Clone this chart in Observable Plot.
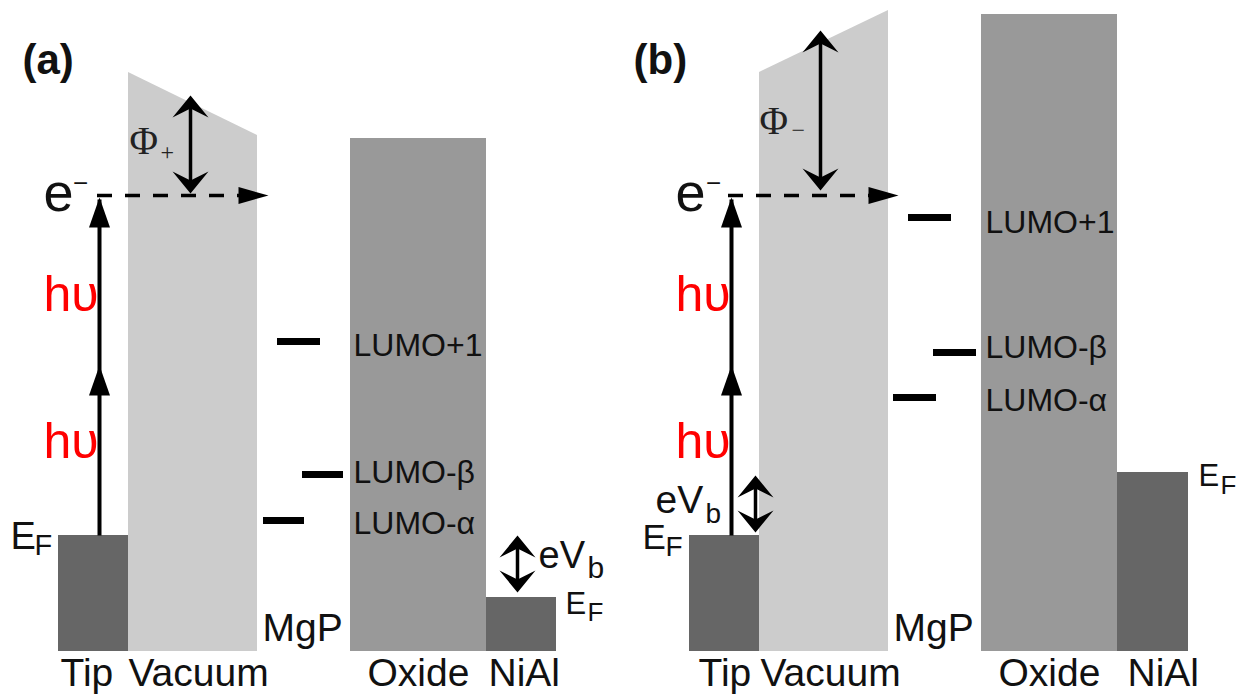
<!DOCTYPE html>
<html>
<head>
<meta charset="utf-8">
<script src="https://cdn.jsdelivr.net/npm/d3@7"></script>
<script src="https://cdn.jsdelivr.net/npm/@observablehq/plot@0.6"></script>
<style>
  html, body { margin: 0; padding: 0; background: #fff; }
  #chart { width: 1244px; height: 698px; }
</style>
</head>
<body>
<div id="chart"></div>
<script>
// ---- Data (x = horizontal position, E = energy level above block base) ----
// Material blocks
const blockPanel = ["a", "a", "a", "b", "b", "b"];
const blockName  = ["Tip", "Oxide", "NiAl", "Tip", "Oxide", "NiAl"];
const blockX1    = [58, 350, 486, 689, 981, 1117];
const blockX2    = [128, 486, 556, 759, 1117, 1188];
const blockTop   = [116, 513, 54, 116, 637, 179];
const blockFill  = ["#666666", "#999999", "#666666", "#666666", "#999999", "#666666"];

// Vacuum barrier (trapezoid top edge)
const vacPanel = ["a", "a", "b", "b"];
const vacX     = [128, 257, 759, 888];
const vacTop   = [579, 516, 579, 641];

// Molecular levels (MgP)
const lumoPanel = ["a", "a", "a", "b", "b", "b"];
const lumoName  = ["LUMO+1", "LUMO-β", "LUMO-α", "LUMO+1", "LUMO-β", "LUMO-α"];
const lumoE     = [310, 177, 131, 434, 299, 254];
const lumoX1    = [277, 302, 263, 908, 933, 893];
const lumoX2    = [320, 343, 304, 951, 976, 936];
const lumoLabelX = [353, 353, 353, 985, 985, 985];
const lumoLabelE = [296, 169, 118, 419, 294, 241];

// Vacuum level of emitted electron (dashed)
const eVacE  = 456;
const eVacX1 = [97, 728];
const eVacX2 = [250, 880];
const eVacTip = [268, 898];

// Photon excitation arrows
const photonX = [99, 731];
const tipEF = 116;
const hv = 170;

// Barrier heights Φ
const phiX = [190, 820];
const phiLow = [458, 461];
const phiHigh = [556, 621];

// Bias eV_b
const biasX = [517, 755];
const biasLow = [59, 119];
const biasHigh = [116, 176];

// Text labels
const layerText = ["Tip", "Vacuum", "Oxide", "NiAl", "Tip", "Vacuum", "Oxide", "NiAl", "MgP", "MgP"];
const layerX    = [60, 128, 367, 488, 698, 760, 998, 1127, 262, 893];
const layerE    = [-34, -34, -34, -34, -34, -34, -34, -34, 11, 11];

// ---- Build tables ----
const blocks = blockName.map((n, i) => ({panel: blockPanel[i], name: n, x1: blockX1[i], x2: blockX2[i], top: blockTop[i], fill: blockFill[i]}));
const vacuum = vacX.map((x, i) => ({panel: vacPanel[i], x, top: vacTop[i]}));
const lumos = lumoName.map((n, i) => ({panel: lumoPanel[i], name: n, E: lumoE[i], x1: lumoX1[i], x2: lumoX2[i], lx: lumoLabelX[i], lE: lumoLabelE[i]}));
const dashes = eVacX1.map((x1, i) => ({x1, x2: eVacX2[i], E: eVacE}));
const links = [
  ...photonX.map(x => ({x, y1: tipEF, y2: tipEF + 2 * hv - 4, w: 4})),
  ...phiX.map((x, i) => ({x, y1: phiLow[i] + 6, y2: phiHigh[i] - 6, w: 3.5})),
  ...biasX.map((x, i) => ({x, y1: biasLow[i] + 6, y2: biasHigh[i] - 6, w: 3.5}))
];
const triHeads = photonX.flatMap(x => [{x, E: tipEF + hv, rot: 0}, {x, E: tipEF + 2 * hv - 2, rot: 0}]);
const stealthHeads = [
  ...phiX.flatMap((x, i) => [{x, E: phiHigh[i], rot: 0}, {x, E: phiLow[i], rot: 180}]),
  ...biasX.flatMap((x, i) => [{x, E: biasHigh[i], rot: 0}, {x, E: biasLow[i], rot: 180}])
];
const dashHeads = eVacTip.map(x => ({x, E: eVacE, rot: 90}));
const layers = layerText.map((t, i) => ({t, x: layerX[i], E: layerE[i]}));

// sans labels with explicit size
const sansLabels = [
  {t: "E", x: 10, E: 651 - 548, s: 38}, {t: "F", x: 34, E: 651 - 554, s: 29},
  {t: "E", x: 565, E: 651 - 613, s: 31}, {t: "F", x: 587, E: 651 - 620, s: 26},
  {t: "E", x: 642, E: 651 - 548, s: 35}, {t: "F", x: 665, E: 651 - 555, s: 28},
  {t: "E", x: 1198, E: 651 - 485, s: 31}, {t: "F", x: 1220, E: 651 - 493, s: 26},
  {t: "eV", x: 538, E: 651 - 567, s: 38}, {t: "b", x: 587, E: 651 - 577, s: 30},
  {t: "eV", x: 655, E: 651 - 512, s: 39}, {t: "b", x: 705, E: 651 - 522, s: 28},
  {t: "e", x: 43, E: 651 - 210, s: 54}, {t: "e", x: 675, E: 651 - 210, s: 54}
];
const supMinus = [{x: 80, E: 651 - 191}, {x: 713, E: 651 - 191}];
const hvLabels = photonX.flatMap(x => [{x: x - 56, E: 651 - 310}, {x: x - 56, E: 651 - 457}]);
const phiLabels = [{t: "Φ", x: 129, E: 651 - 153}, {t: "Φ", x: 759, E: 651 - 133}];
const phiSubs = [{t: "+", x: 160, E: 651 - 159, s: 24}, {t: "−", x: 791, E: 651 - 137, s: 24}];
const panelLabels = [{t: "(a)", x: 22, E: 651 - 73}, {t: "(b)", x: 633, E: 651 - 73}];

// custom arrowhead symbol: tip at origin, pointing up
function head(len, wid, notch) {
  return {
    draw(ctx, size) {
      const s = Math.sqrt(size / Math.PI) / len;
      ctx.moveTo(0, 0);
      ctx.lineTo(-wid / 2 * s, len * s);
      ctx.lineTo(0, (len - notch) * s);
      ctx.lineTo(wid / 2 * s, len * s);
      ctx.closePath();
    }
  };
}

const SANS = "Liberation Sans, Arial, Helvetica, sans-serif";
const SERIF = "Liberation Serif, Times New Roman, serif";

const chart = Plot.plot({
  width: 1244,
  height: 698,
  margin: 0,
  x: {domain: [0, 1244], range: [0, 1244], axis: null},
  y: {domain: [-47, 651], range: [698, 0], axis: null},
  style: {background: "white", overflow: "visible"},
  marks: [
    Plot.areaY(vacuum, {x: "x", y1: 0, y2: "top", z: "panel", fill: "#cccccc", curve: "linear"}),
    Plot.rect(blocks, {x1: "x1", x2: "x2", y1: 0, y2: "top", fill: "fill"}),
    Plot.ruleY(lumos, {y: "E", x1: "x1", x2: "x2", stroke: "#000", strokeWidth: 7}),
    Plot.ruleY(dashes, {y: "E", x1: "x1", x2: "x2", stroke: "#000", strokeWidth: 3.5, strokeDasharray: "15,13"}),
    Plot.link(links, {x1: "x", x2: "x", y1: "y1", y2: "y2", stroke: "#000", strokeWidth: "w"}),
    Plot.dot(triHeads, {x: "x", y: "E", rotate: "rot", r: 30, symbol: head(30, 21, 0), fill: "#000", stroke: "none"}),
    Plot.dot(stealthHeads, {x: "x", y: "E", rotate: "rot", r: 22, symbol: head(22, 36, 9), fill: "#000", stroke: "none"}),
    Plot.dot(dashHeads, {x: "x", y: "E", rotate: "rot", r: 30, symbol: head(30, 17, 0), fill: "#000", stroke: "none"}),
    Plot.text(lumos, {x: "lx", y: "lE", text: "name", fontSize: 32, textAnchor: "start", lineAnchor: "bottom", fill: "#111", fontFamily: SANS}),
    Plot.text(layers, {x: "x", y: "E", text: "t", fontSize: 39, textAnchor: "start", lineAnchor: "bottom", fill: "#111", fontFamily: SANS}),
    Plot.text(sansLabels, {x: "x", y: "E", text: "t", fontSize: "s", textAnchor: "start", lineAnchor: "bottom", fill: "#111", fontFamily: SANS}),
    Plot.text(supMinus, {x: "x", y: "E", text: () => "−", fontSize: 26, textAnchor: "middle", lineAnchor: "bottom", fill: "#111", fontFamily: SANS}),
    Plot.text(hvLabels, {x: "x", y: "E", text: () => "hυ", fontSize: 50, textAnchor: "start", lineAnchor: "bottom", fill: "#ff0000", fontFamily: SANS}),
    Plot.text(phiLabels, {x: "x", y: "E", text: "t", fontSize: 39, textAnchor: "start", lineAnchor: "bottom", fill: "#222", fontFamily: SERIF}),
    Plot.text(phiSubs, {x: "x", y: "E", text: "t", fontSize: "s", textAnchor: "start", lineAnchor: "bottom", fill: "#222", fontFamily: SERIF}),
    Plot.text(panelLabels, {x: "x", y: "E", text: "t", fontSize: 42, fontWeight: "bold", textAnchor: "start", lineAnchor: "bottom", fill: "#111", fontFamily: SANS})
  ]
});
document.getElementById("chart").appendChild(chart);
</script>
</body>
</html>
